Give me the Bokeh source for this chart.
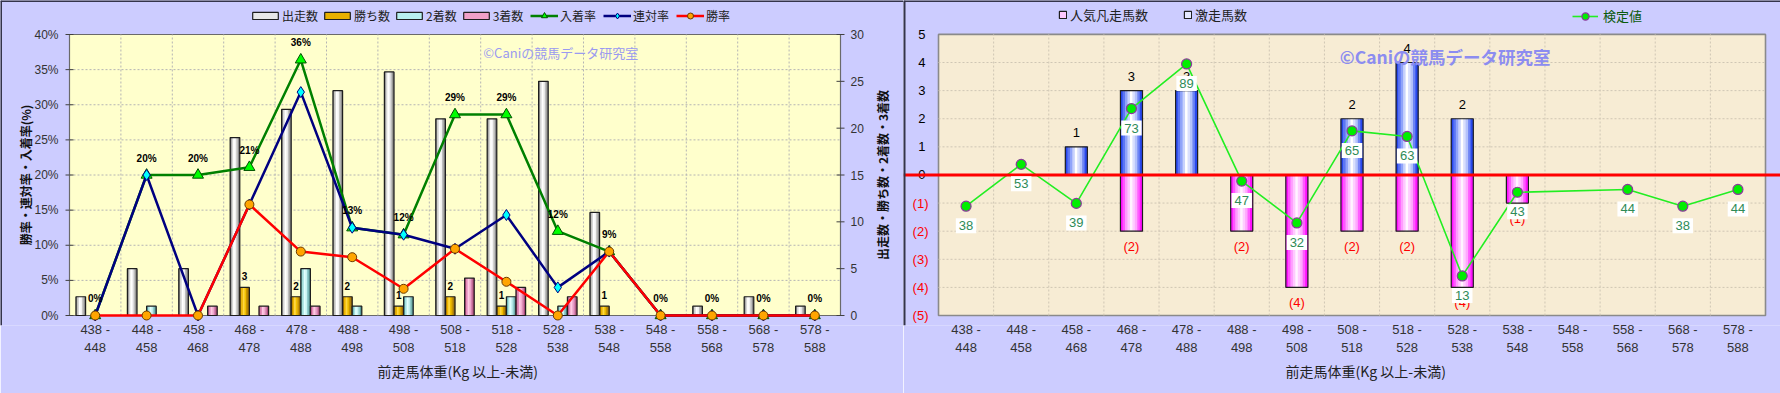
import math
from bokeh.plotting import figure
from bokeh.models import (Range1d, FixedTicker, Legend, LegendItem, Label, Span, Title)
from bokeh.layouts import row
from bokeh.embed import file_html
from bokeh.resources import INLINE

# ---------------- data ----------------
weight_bins = ["438 -\n448", "448 -\n458", "458 -\n468", "468 -\n478", "478 -\n488",
               "488 -\n498", "498 -\n508", "508 -\n518", "518 -\n528", "528 -\n538",
               "538 -\n548", "548 -\n558", "558 -\n568", "568 -\n578", "578 -\n588"]
runs    = [2, 5, 5, 19, 22, 24, 26, 21, 21, 25, 11, 0, 1, 2, 1]
wins    = [0, 0, 0, 3, 2, 2, 1, 2, 1, 0, 1, 0, 0, 0, 0]
seconds = [0, 1, 0, 0, 5, 1, 2, 0, 2, 1, 0, 0, 0, 0, 0]
thirds  = [0, 0, 1, 1, 1, 0, 0, 4, 3, 2, 0, 0, 0, 0, 0]
place_rate    = [0, 20, 20, 21.1, 36.4, 12.5, 11.5, 28.6, 28.6, 12.0, 9.1, 0, 0, 0, 0]
quinella_rate = [0, 20, 0, 15.8, 31.8, 12.5, 11.5, 9.5, 14.3, 4.0, 9.1, 0, 0, 0, 0]
win_rate      = [0, 0, 0, 15.8, 9.1, 8.3, 3.8, 9.5, 4.8, 0, 9.1, 0, 0, 0, 0]
place_rate_labels = ["0%", "20%", "20%", "21%", "36%", "13%", "12%", "29%", "29%",
                     "12%", "9%", "0%", "0%", "0%", "0%"]

hot_horses  = [0, 0, 1, 3, 3, 0, 0, 2, 4, 2, 0, 0, 0, 0, 0]   # 激走馬数
flop_horses = [0, 0, 0, 2, 0, 2, 4, 2, 2, 4, 1, 0, 0, 0, 0]   # 人気凡走馬数
kentei      = [38, 53, 39, 73, 89, 47, 32, 65, 63, 13, 43, None, 44, 38, 44]

pct_ticks = [0, 5, 10, 15, 20, 25, 30, 35, 40]
cnt_ticks = [0, 5, 10, 15, 20, 25, 30]
diff_ticks = [-5, -4, -3, -2, -1, 0, 1, 2, 3, 4, 5]

# ---------------- layout / styling ----------------
FONT = "Noto Sans CJK JP"
NUM = "Liberation Sans"
PANEL = "#ccccff"
EDGE = "#34344a"
XTITLE = "前走馬体重(Kg 以上-未満)"
W1, W2, H = 903, 877, 393
A1 = dict(left=69, right=840, top=34, bottom=315)   # plot area of left chart (canvas px)
A2 = dict(left=35, right=862, top=34, bottom=316)   # plot area of right chart (canvas px)
PAD_B = 10                                          # frame extends a little below plot area
ncat = len(weight_bins)


def hex2rgb(h):
    return tuple(int(h[i:i + 2], 16) for i in (1, 3, 5))


def ramp(stops, n):
    out = []
    for k in range(n):
        t = k / (n - 1) * (len(stops) - 1)
        i = min(int(t), len(stops) - 2)
        f = t - i
        a, b = hex2rgb(stops[i]), hex2rgb(stops[i + 1])
        out.append("#%02x%02x%02x" % tuple(round(a[j] + (b[j] - a[j]) * f) for j in range(3)))
    return out


def grad_bars(p, xs, tops, width, stops, n, bottom=0, y_range_name="default"):
    cols = ramp(stops, n)
    sw = width / n
    for k, c in enumerate(cols):
        off = -width / 2 + sw * (k + 0.5)
        p.vbar(x=[x + off for x in xs], top=tops, bottom=bottom, width=sw * 1.25,
               fill_color=c, line_color=None, y_range_name=y_range_name)
    p.vbar(x=xs, top=tops, bottom=bottom, width=width, fill_color=None,
           line_color="#1e1e1e", line_width=1.2, y_range_name=y_range_name)


def style_xaxis(p, title_left):
    centers = [i + 0.5 for i in range(ncat)]
    ax = p.xaxis[0]
    ax.ticker = FixedTicker(ticks=centers)
    ax.major_label_overrides = {c: lab for c, lab in zip(centers, weight_bins)}
    ax.major_tick_line_color = None
    ax.minor_tick_line_color = None
    ax.axis_line_color = None
    ax.major_label_text_font = NUM
    ax.major_label_text_font_size = "13px"
    ax.major_label_text_color = "#333333"
    ax.major_label_standoff = -PAD_B
    p.xgrid.visible = False
    p.ygrid.visible = False
    p.add_layout(Title(text=XTITLE, align="left", offset=title_left, standoff=2,
                       text_font=FONT, text_font_size="14px", text_font_style="normal",
                       text_color="#222222"), "below")


def txt(p, x, y, text, size="12px", color="#333333", align="center", baseline="middle",
        font=NUM, style="normal", **kw):
    p.add_layout(Label(x=x, y=y, text=text, text_align=align, text_baseline=baseline,
                       text_font=font, text_font_size=size, text_font_style=style,
                       text_color=color, **kw))


# ================= LEFT CHART =================
ux1 = (A1["right"] - A1["left"]) / ncat
uy1 = (A1["bottom"] - A1["top"]) / (pct_ticks[-1] - pct_ticks[0])
uc1 = (A1["bottom"] - A1["top"]) / (cnt_ticks[-1] - cnt_ticks[0])
p1 = figure(width=W1, height=H,
            x_range=Range1d(-A1["left"] / ux1, ncat + (W1 - A1["right"]) / ux1),
            y_range=Range1d(pct_ticks[0] - PAD_B / uy1, pct_ticks[-1] + A1["top"] / uy1),
            y_axis_location=None, output_backend="svg", toolbar_location=None,
            min_border_left=0, min_border_right=0, min_border_top=0,
            min_border_bottom=H - A1["bottom"] - PAD_B,
            background_fill_color=PANEL, border_fill_color=PANEL, outline_line_color=None)
p1.extra_y_ranges = {"cnt": Range1d(cnt_ticks[0] - PAD_B / uc1, cnt_ticks[-1] + A1["top"] / uc1)}
style_xaxis(p1, 377)

# plot area + grid
p1.quad(left=0, right=ncat, bottom=pct_ticks[0], top=pct_ticks[-1], fill_color="#ffffcc",
        line_color="#6a6a6a", line_width=1.2)
p1.segment(x0=list(range(1, ncat)), x1=list(range(1, ncat)), y0=pct_ticks[0], y1=pct_ticks[-1],
           line_color="#b4b4b4", line_dash="2 2", line_width=1)
p1.segment(x0=0, x1=ncat, y0=pct_ticks[1:-1], y1=pct_ticks[1:-1],
           line_color="#b4b4b4", line_dash="2 2", line_width=1)
p1.scatter(x=0, y=pct_ticks, marker="dash", size=8, line_color="#404040")
p1.scatter(x=ncat, y=cnt_ticks, marker="dash", size=8, line_color="#404040", y_range_name="cnt")

for t in pct_ticks:
    txt(p1, 0, t, "%d%%" % t, align="right", x_offset=-11)
for t in cnt_ticks:
    txt(p1, ncat, t, str(t), align="left", x_offset=10, y_range_name="cnt")
txt(p1, 0, 20, "勝率・連対率・入着率(%)", font=FONT, style="bold", color="#111111",
    x_offset=-44, angle=math.pi / 2)
txt(p1, ncat, 20, "出走数・勝ち数・2着数・3着数", font=FONT, style="bold", color="#111111",
    x_offset=42, angle=math.pi / 2)

# bars
bw = 0.187
series = [
    (runs, ["#8a8a8a", "#d6d6d6", "#ffffff", "#f2f2f2", "#bdbdbd", "#8a8a8a"], "#e8e8e8", "出走数"),
    (wins, ["#a87400", "#eab400", "#ffd640", "#f2c000", "#c89400", "#9a6c00"], "#e8b000", "勝ち数"),
    (seconds, ["#5fa8a8", "#a6e0e0", "#e0ffff", "#c8f4f4", "#90cccc", "#5a9e9e"], "#b8f0f0", "2着数"),
    (thirds, ["#b45083", "#e48cba", "#ffc8e4", "#f2aed2", "#d680b0", "#a84878"], "#f0a0c8", "3着数"),
]
bar_legend_items = []
for j, (vals, stops, mid, name) in enumerate(series):
    xs = [i + 0.5 + (j - 1.5) * bw for i, v in enumerate(vals) if v > 0]
    tops = [v for v in vals if v > 0]
    grad_bars(p1, xs, tops, bw, stops, 6, y_range_name="cnt")
    dummy = p1.vbar(x=[math.nan], top=[math.nan], width=1, fill_color=mid, line_color="#1e1e1e",
                    line_width=1.2, y_range_name="cnt")
    bar_legend_items.append(LegendItem(label=name, renderers=[dummy]))

xc = [i + 0.5 for i in range(ncat)]
l_place = p1.line(xc, place_rate, line_color="#008000", line_width=2.5)
m_place = p1.scatter(xc, place_rate, marker="triangle", size=11, fill_color="#00ff00",
                     line_color="#005000", line_width=1)
l_quin = p1.line(xc, quinella_rate, line_color="#000080", line_width=2.5)
m_quin = p1.scatter(xc, quinella_rate, marker="diamond", size=11, fill_color="#00ffff",
                    line_color="#000080", line_width=1)
l_win = p1.line(xc, win_rate, line_color="#ff0000", line_width=2.5)
m_win = p1.scatter(xc, win_rate, marker="circle", size=9, fill_color="#ffa500",
                   line_color="#6a3a00", line_width=1)

for x, y, t in zip(xc, place_rate, place_rate_labels):
    txt(p1, x, y, t, size="10px", color="#000000", style="bold", y_offset=17)
for i, w in enumerate(wins):
    if w > 0:
        txt(p1, i + 0.5 + (1 - 1.5) * bw, w, str(w), size="10px", color="#000000",
            style="bold", y_offset=11, y_range_name="cnt")

txt(p1, 8.05, 37.4, "©Caniの競馬データ研究室", size="13px", color="#9a9af0", font=FONT,
    align="left")

leg_y1 = A1["bottom"] + PAD_B - 24
leg_bars = Legend(items=bar_legend_items, orientation="horizontal", location=(249, leg_y1),
                  glyph_width=32, glyph_height=9, label_height=16, label_standoff=1, spacing=3,
                  padding=0, margin=0, border_line_color=None, background_fill_alpha=0,
                  label_text_font=FONT, label_text_font_size="12px", label_text_color="#222222")
leg_lines = Legend(items=[LegendItem(label="入着率", renderers=[l_place, m_place]),
                          LegendItem(label="連対率", renderers=[l_quin, m_quin]),
                          LegendItem(label="勝率", renderers=[l_win, m_win])],
                   orientation="horizontal", location=(530, leg_y1),
                   glyph_width=28, glyph_height=15, label_height=16, label_standoff=2, spacing=7,
                   padding=0, margin=0, border_line_color=None, background_fill_alpha=0,
                   label_text_font=FONT, label_text_font_size="12px", label_text_color="#222222")
p1.add_layout(leg_bars)
p1.add_layout(leg_lines)

p1.add_layout(Span(location=p1.x_range.start, dimension="height", line_color=EDGE, line_width=3))
p1.add_layout(Span(location=p1.y_range.end, dimension="width", line_color=EDGE, line_width=3))

# ================= RIGHT CHART =================
ux2 = (A2["right"] - A2["left"]) / ncat
uy2 = (A2["bottom"] - A2["top"]) / (diff_ticks[-1] - diff_ticks[0])
kt_lo, kt_hi = -1.2, 99.6
kt_per_unit = (kt_hi - kt_lo) / (diff_ticks[-1] - diff_ticks[0])
p2 = figure(width=W2, height=H,
            x_range=Range1d(-A2["left"] / ux2, ncat + (W2 - A2["right"]) / ux2),
            y_range=Range1d(diff_ticks[0] - PAD_B / uy2, diff_ticks[-1] + A2["top"] / uy2),
            y_axis_location=None, output_backend="svg", toolbar_location=None,
            min_border_left=0, min_border_right=0, min_border_top=0,
            min_border_bottom=H - A2["bottom"] - PAD_B,
            background_fill_color=PANEL, border_fill_color=PANEL, outline_line_color=None)
p2.extra_y_ranges = {"kt": Range1d(kt_lo - kt_per_unit * PAD_B / uy2,
                                   kt_hi + kt_per_unit * A2["top"] / uy2)}
style_xaxis(p2, 382)

p2.quad(left=0, right=ncat, bottom=diff_ticks[0], top=diff_ticks[-1], fill_color="#f7ecd4",
        line_color="#8a8a8a", line_width=1.6)
p2.segment(x0=list(range(1, ncat)), x1=list(range(1, ncat)), y0=diff_ticks[0], y1=diff_ticks[-1],
           line_color="#cfc6b4", line_dash="2 2", line_width=1)
inner = [t for t in diff_ticks[1:-1] if t != 0]
p2.segment(x0=0, x1=ncat, y0=inner, y1=inner, line_color="#cfc6b4", line_dash="2 2", line_width=1)

for t in diff_ticks:
    if t >= 0:
        txt(p2, 0, t, str(t), size="13px", color="#000000", align="right", x_offset=-13)
    else:
        txt(p2, 0, t, "(%d)" % (-t), size="13px", color="#ff0000", align="right", x_offset=-10)

hot_x = [i + 0.5 for i, v in enumerate(hot_horses) if v > 0]
hot_top = [v for v in hot_horses if v > 0]
flop_x = [i + 0.5 for i, v in enumerate(flop_horses) if v > 0]
flop_top = [-v for v in flop_horses if v > 0]
grad_bars(p2, hot_x, hot_top, 0.4, ["#2848ee", "#90a4fa", "#ffffff", "#b4c2fb", "#2848ee"], 9)
grad_bars(p2, flop_x, flop_top, 0.4, ["#ff10ff", "#ff9cff", "#fff4ff", "#ffa8ff", "#ff10ff"], 9)
d_flop = p2.vbar(x=[math.nan], top=[math.nan], width=1, fill_color="#ffc8ff",
                 line_color="#202020", line_width=1.2)
d_hot = p2.vbar(x=[math.nan], top=[math.nan], width=1, fill_color="#e4e8ff",
                line_color="#202020", line_width=1.2)

p2.add_layout(Span(location=0, dimension="width", line_color="#ff0000", line_width=3))

for x, v in zip(hot_x, hot_top):
    txt(p2, x, v, str(v), size="13px", color="#000000", y_offset=14)
for x, v in zip(flop_x, flop_top):
    txt(p2, x, v, "(%d)" % (-v), size="13px", color="#ff0000", y_offset=-15)

kx = [i + 0.5 for i, v in enumerate(kentei) if v is not None]
ky = [v for v in kentei if v is not None]
l_k = p2.line(kx, ky, y_range_name="kt", line_color="#22ee22", line_width=1.6)
m_k = p2.scatter(kx, ky, y_range_name="kt", marker="circle", size=10, fill_color="#00ee00",
                 line_color="#8a3a9a", line_width=1.2)

txt(p2, 7.28, 4.2, "©Caniの競馬データ研究室", size="17.5px", color="#8c8cf0", font=FONT,
    style="bold", align="left")

for x, v in zip(kx, ky):
    txt(p2, x, v, str(v), size="13px", color="#2e8b57", y_offset=-19.5, y_range_name="kt",
        background_fill_color="#ffffff", padding=3)

leg_y2 = A2["bottom"] + PAD_B - 25
leg_a = Legend(items=[LegendItem(label="人気凡走馬数", renderers=[d_flop]),
                      LegendItem(label="激走馬数", renderers=[d_hot])],
               orientation="horizontal", location=(155, leg_y2),
               glyph_width=9, glyph_height=9, label_height=16, label_standoff=3, spacing=35,
               padding=0, margin=0, border_line_color=None, background_fill_alpha=0,
               label_text_font=FONT, label_text_font_size="13px", label_text_color="#222222")
leg_b = Legend(items=[LegendItem(label="検定値", renderers=[l_k, m_k])],
               orientation="horizontal", location=(669, leg_y2 - 1),
               glyph_width=26, glyph_height=18, label_height=16, label_standoff=5,
               padding=0, margin=0, border_line_color=None, background_fill_alpha=0,
               label_text_font=FONT, label_text_font_size="13px", label_text_color="#0a5a0a")
p2.add_layout(leg_a)
p2.add_layout(leg_b)

p2.add_layout(Span(location=p2.x_range.start, dimension="height", line_color=EDGE, line_width=4))
p2.add_layout(Span(location=p2.y_range.end, dimension="width", line_color=EDGE, line_width=3))

layout = row(p1, p2)
open("out.html", "w").write(file_html(layout, INLINE))
